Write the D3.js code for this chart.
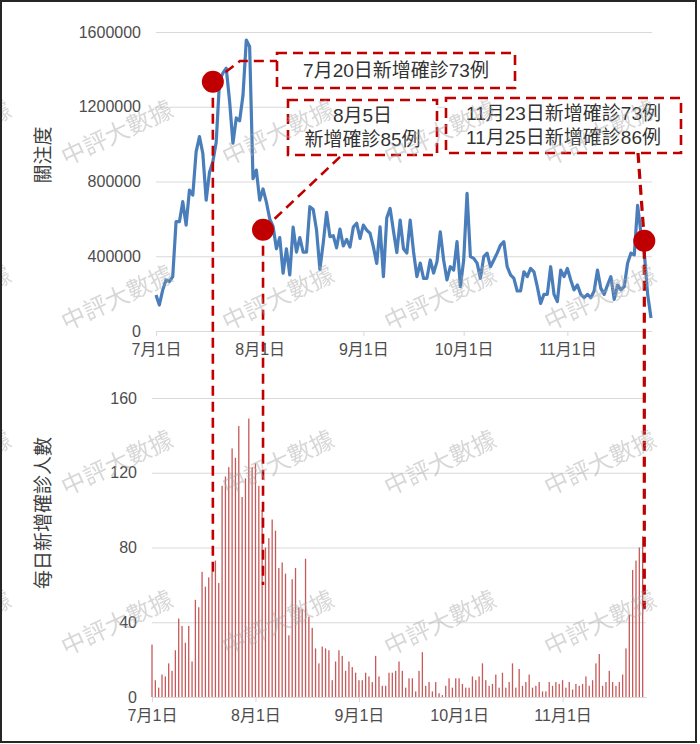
<!DOCTYPE html>
<html>
<head>
<meta charset="utf-8">
<script src="https://cdn.jsdelivr.net/npm/d3@7"></script>
<style>
  body { margin: 0; background: #fff; }
  text { font-family: "Liberation Sans", "Noto Sans CJK TC", sans-serif; }
</style>
</head>
<body>
<svg id="chart"></svg>
<script>
// daily values, starting 2020-07-01
const startDate = new Date(2020, 6, 1)
const endDate = new Date(2020, 10, 26)

const attention = [
  193000, 139000, 219000, 273000, 264000, 291000, 585000, 585000, 692000, 567000,
  754000, 727000, 960000, 1040000, 950000, 700000, 850000, 906000, 1010000, 1340000,
  1380000, 1406000, 1230000, 1005000, 1140000, 1125000, 1260000, 1557000, 1521000, 815000,
  861000, 700000, 760000, 690000, 600000, 560000, 440000, 500000, 309000, 440000,
  300000, 556000, 422000, 500000, 422000, 422000, 665000, 650000, 540000, 330000,
  470000, 635000, 505000, 510000, 445000, 545000, 455000, 490000, 449000, 556000,
  577000, 495000, 567000, 540000, 523000, 450000, 362000, 557000, 291000, 606000,
  656000, 535000, 420000, 594000, 440000, 417000, 593000, 424000, 291000, 363000,
  282000, 282000, 380000, 310000, 370000, 531000, 380000, 273000, 344000, 326000,
  478000, 237000, 380000, 737000, 398000, 389000, 363000, 282000, 398000, 417000,
  344000, 380000, 417000, 460000, 478000, 344000, 300000, 282000, 214000, 214000,
  317000, 291000, 335000, 317000, 237000, 148000, 196000, 196000, 344000, 196000,
  157000, 326000, 291000, 335000, 273000, 220000, 246000, 196000, 178000, 196000,
  178000, 214000, 326000, 228000, 196000, 246000, 291000, 169000, 246000, 220000,
  237000, 363000, 417000, 407000, 672000, 523000, 417000, 196000, 70000
]

const newCases = [
  28, 9, 5, 12, 11, 18, 14, 25, 42, 38,
  29, 38, 19, 52, 48, 67, 59, 64, 67, 73,
  61, 113, 118, 123, 133, 128, 145, 107, 117, 149,
  123, 125, 113, 100, 80, 85, 95, 89, 69, 72,
  66, 33, 63, 69, 48, 47, 74, 43, 37, 26,
  18, 27, 26, 25, 9, 19, 25, 22, 14, 19,
  16, 13, 9, 9, 13, 11, 8, 22, 11, 6,
  6, 13, 13, 14, 19, 14, 5, 10, 10, 3,
  14, 24, 6, 8, 3, 8, 2, 1, 6, 10,
  5, 10, 10, 7, 5, 5, 11, 9, 11, 18,
  9, 6, 7, 12, 5, 13, 5, 8, 18, 5,
  15, 6, 8, 12, 5, 6, 8, 3, 3, 8,
  6, 8, 7, 9, 5, 8, 4, 7, 6, 7,
  11, 6, 9, 18, 23, 6, 8, 14, 8, 6,
  8, 12, 26, 44, 68, 73, 80, 86
]

const attentionTicks = [0, 400000, 800000, 1200000, 1600000]
const caseTicks = [0, 40, 80, 120, 160]
const monthTicks = [new Date(2020, 6, 1), new Date(2020, 7, 1), new Date(2020, 8, 1), new Date(2020, 9, 1), new Date(2020, 10, 1)]
const monthLabels = ['7月1日', '8月1日', '9月1日', '10月1日', '11月1日']

// red markers on the attention line, and where their dashed drop lines stop (in cases)
const markerDates = [new Date(2020, 6, 18), new Date(2020, 7, 2), new Date(2020, 10, 24)]
const markerValues = [1334000, 542000, 483000]
const markerDropTo = [67, 60, 47]

const noteLines = [
  ['7月20日新增確診73例'],
  ['8月5日', '新增確診85例'],
  ['11月23日新增確診73例', '11月25日新增確診86例']
]

const watermark = '中評大數據'

const dims = { width: 700, height: 744 }
const upper = { x0: 156, x1: 651, y0: 331, y1: 32, gridEnd: 652 }
const lower = { x0: 152, x1: 646, y0: 697, y1: 398, gridEnd: 646 }

const red = '#c00000'
const textColor = '#4d4d4d'
const gridColor = '#d9d9d9'

const svg = d3.select('#chart')
  .attr('width', dims.width)
  .attr('height', dims.height)

const day = i => d3.timeDay.offset(startDate, i)

const xTop = d3.scaleTime().domain([startDate, endDate]).range([upper.x0, upper.x1])
const yTop = d3.scaleLinear().domain([0, 1600000]).range([upper.y0, upper.y1])
const xBot = d3.scaleTime().domain([startDate, endDate]).range([lower.x0, lower.x1])
const yBot = d3.scaleLinear().domain([0, 160]).range([lower.y0, lower.y1])

const styleAxis = g => {
  g.select('.domain').attr('stroke', gridColor)
  g.selectAll('.tick line').attr('stroke', gridColor)
  g.selectAll('.tick text')
    .attr('fill', textColor)
    .attr('font-size', 16)
}

// upper panel axes
svg.append('g')
  .attr('transform', `translate(${upper.x0},0)`)
  .call(d3.axisLeft(yTop).tickValues(attentionTicks).tickFormat(d3.format('d'))
    .tickSize(-(upper.gridEnd - upper.x0)).tickPadding(15))
  .call(g => g.select('.domain').remove())
  .call(styleAxis)

svg.append('g')
  .attr('transform', `translate(0,${upper.y0})`)
  .call(d3.axisBottom(xTop).tickValues(monthTicks).tickFormat((d, i) => monthLabels[i])
    .tickSizeInner(5).tickSizeOuter(0).tickPadding(8))
  .call(styleAxis)

// lower panel axes
svg.append('g')
  .attr('transform', `translate(${lower.x0},0)`)
  .call(d3.axisLeft(yBot).tickValues(caseTicks)
    .tickSize(-(lower.gridEnd - lower.x0)).tickPadding(15))
  .call(g => g.select('.domain').remove())
  .call(styleAxis)

svg.append('g')
  .attr('transform', `translate(0,${lower.y0})`)
  .call(d3.axisBottom(xBot).tickValues(monthTicks).tickFormat((d, i) => monthLabels[i])
    .tickSizeInner(5).tickSizeOuter(0).tickPadding(8))
  .call(styleAxis)

// axis titles
svg.append('text')
  .attr('transform', 'translate(43,155) rotate(-90)')
  .attr('text-anchor', 'middle')
  .attr('dy', '0.35em')
  .attr('font-size', 19)
  .attr('fill', '#404040')
  .text('關注度')

svg.append('text')
  .attr('transform', 'translate(43,513) rotate(-90)')
  .attr('text-anchor', 'middle')
  .attr('dy', '0.35em')
  .attr('font-size', 19)
  .attr('fill', '#404040')
  .text('每日新增確診人數')

// bars
svg.append('g')
  .selectAll('rect')
  .data(newCases)
  .join('rect')
  .attr('x', (d, i) => xBot(day(i)) - 0.65)
  .attr('width', 1.3)
  .attr('y', d => yBot(d))
  .attr('height', d => yBot(0) - yBot(d))
  .attr('fill', '#c65a5a')

// attention line
const line = d3.line()
  .x((d, i) => xTop(day(i)))
  .y(d => yTop(d))

svg.append('path')
  .datum(attention)
  .attr('d', line)
  .attr('fill', 'none')
  .attr('stroke', '#4a7ebb')
  .attr('stroke-width', 3.2)
  .attr('stroke-linejoin', 'round')

// annotations
const marks = markerDates.map((d, i) => ({
  x: xTop(d),
  y: yTop(markerValues[i]),
  yEnd: yBot(markerDropTo[i])
}))

const dashed = g => g
  .attr('fill', 'none')
  .attr('stroke', red)
  .attr('stroke-width', 2.6)
  .attr('stroke-dasharray', '10,6')

const notes = svg.append('g')

// boxes
const boxes = [
  { x: 277, y: 53, w: 238, h: 35 },
  { x: 288, y: 100, w: 149, h: 55 },
  { x: 446, y: 98, w: 235, h: 55 }
]

boxes.forEach((b, i) => {
  notes.append('rect')
    .attr('x', b.x).attr('y', b.y).attr('width', b.w).attr('height', b.h)
    .call(dashed)
    .attr('fill', '#fff')
  const lines = noteLines[i]
  const cy = b.y + b.h / 2
  lines.forEach((t, j) => {
    notes.append('text')
      .attr('x', b.x + b.w / 2)
      .attr('y', cy + (j - (lines.length - 1) / 2) * 24)
      .attr('dy', '0.35em')
      .attr('text-anchor', 'middle')
      .attr('font-size', 19)
      .attr('fill', '#333')
      .text(t)
  })
})

// leader lines
notes.append('path')
  .attr('d', `M${marks[0].x},${marks[0].y}L240,61L277,61`)
  .call(dashed)
notes.append('path')
  .attr('d', `M${marks[1].x},${marks[1].y}L342,155`)
  .call(dashed)
notes.append('path')
  .attr('d', `M638,153L${marks[2].x},${marks[2].y}L${marks[2].x},${marks[2].yEnd}`)
  .call(dashed)
  .attr('stroke-width', 3.2)

marks.slice(0, 2).forEach(m => {
  notes.append('path')
    .attr('d', `M${m.x},${m.y}L${m.x},${m.yEnd}`)
    .call(dashed)
})

notes.selectAll('circle')
  .data(marks)
  .join('circle')
  .attr('cx', d => d.x)
  .attr('cy', d => d.y)
  .attr('r', 11)
  .attr('fill', red)

// watermark (the left column is only partly visible in the original)
const wmX = [-45, 117, 278, 440, 600]
const wmY = [133, 298, 463, 623]
const wm = svg.append('g').attr('opacity', 0.45)
wmY.forEach(y => wmX.forEach(x => {
  wm.append('text')
    .attr('transform', `translate(${x},${y}) rotate(-25)`)
    .attr('text-anchor', 'middle')
    .attr('dy', '0.35em')
    .attr('font-size', 24)
    .attr('fill', '#a6a6a6')
    .text(watermark)
}))

// frame
svg.append('rect')
  .attr('x', 1).attr('y', 1)
  .attr('width', 695).attr('height', 741)
  .attr('fill', 'none')
  .attr('stroke', '#262626')
  .attr('stroke-width', 2)
</script>
</body>
</html>
